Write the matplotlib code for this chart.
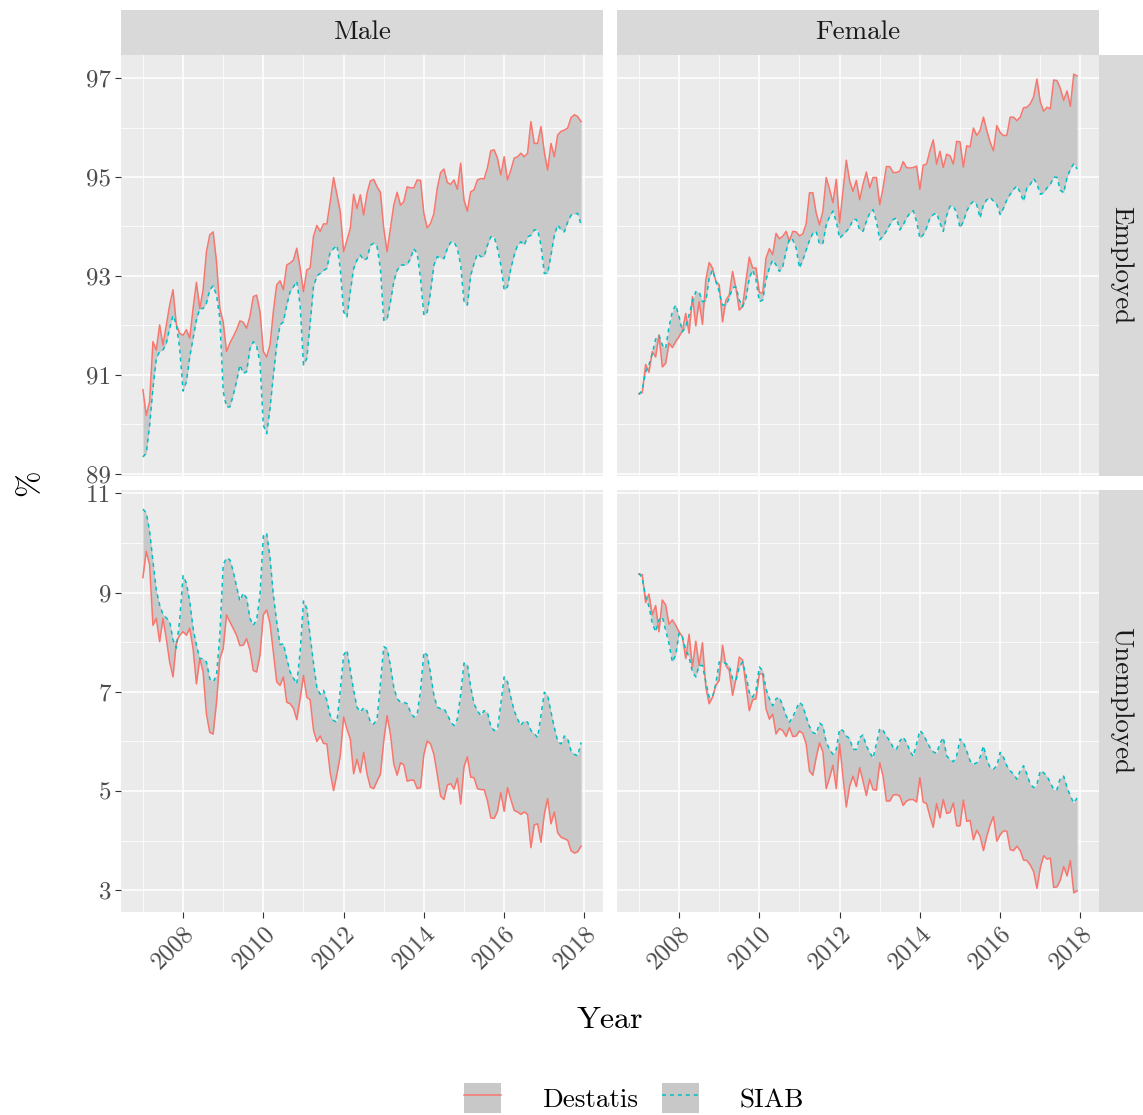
import numpy as np
import matplotlib
matplotlib.use("Agg")
import matplotlib.pyplot as plt
from matplotlib.patches import Rectangle, Patch
from matplotlib.lines import Line2D
from matplotlib.legend_handler import HandlerTuple

plt.rcParams['font.family'] = ['cmr10', 'DejaVu Serif']
plt.rcParams['mathtext.fontset'] = 'cm'
plt.rcParams['axes.formatter.use_mathtext'] = True

# ---------------------------------------------------------------------------
# Monthly shares (in %) from January 2007 to December 2017
# ---------------------------------------------------------------------------
start_year = 2007
genders = ["Male", "Female"]
statuses = ["Employed", "Unemployed"]
sources = ["Destatis", "SIAB"]

male_employed_destatis = [
    90.70, 90.18, 90.45, 91.67, 91.50, 92.01, 91.60, 92.00, 92.41, 92.72, 92.01, 91.84,
    91.80, 91.91, 91.74, 92.34, 92.87, 92.34, 92.72, 93.49, 93.83, 93.89, 93.29, 92.34,
    92.07, 91.47, 91.64, 91.77, 91.91, 92.09, 92.06, 91.94, 92.18, 92.58, 92.61, 92.28,
    91.47, 91.36, 91.60, 92.28, 92.82, 92.90, 92.72, 93.22, 93.26, 93.32, 93.56, 93.16,
    92.68, 93.12, 93.16, 93.80, 94.02, 93.90, 94.05, 94.05, 94.50, 94.99, 94.64, 94.30,
    93.49, 93.72, 93.96, 94.65, 94.36, 94.64, 94.23, 94.67, 94.92, 94.95, 94.80, 94.69,
    93.96, 93.49, 93.96, 94.43, 94.69, 94.43, 94.50, 94.80, 94.78, 94.78, 94.94, 94.93,
    94.26, 93.97, 94.06, 94.26, 94.77, 95.09, 95.16, 94.89, 94.85, 94.94, 94.75, 95.28,
    94.53, 94.31, 94.70, 94.74, 94.94, 94.97, 94.96, 95.18, 95.53, 95.55, 95.38, 95.04,
    95.41, 94.94, 95.14, 95.38, 95.41, 95.48, 95.41, 95.48, 96.12, 95.68, 95.68, 96.02,
    95.51, 95.14, 95.68, 95.41, 95.85, 95.92, 95.95, 95.99, 96.20, 96.26, 96.22, 96.12,
]
male_employed_siab = [
    89.34, 89.41, 89.98, 90.72, 91.33, 91.47, 91.50, 91.64, 91.94, 92.20, 92.01, 91.53,
    90.67, 90.86, 91.36, 91.74, 92.11, 92.34, 92.34, 92.45, 92.72, 92.80, 92.61, 92.14,
    90.66, 90.35, 90.35, 90.59, 90.86, 91.20, 91.03, 91.06, 91.53, 91.67, 91.57, 91.26,
    89.98, 89.81, 90.32, 90.99, 91.60, 92.01, 92.07, 92.41, 92.68, 92.78, 92.89, 92.41,
    91.20, 91.33, 92.04, 92.78, 93.00, 93.05, 93.11, 93.15, 93.49, 93.55, 93.62, 93.15,
    92.27, 92.17, 92.68, 93.15, 93.32, 93.42, 93.32, 93.35, 93.62, 93.66, 93.59, 93.15,
    92.10, 92.12, 92.47, 92.88, 93.11, 93.22, 93.22, 93.23, 93.35, 93.55, 93.45, 92.95,
    92.20, 92.27, 92.68, 93.22, 93.39, 93.36, 93.35, 93.55, 93.68, 93.69, 93.55, 93.22,
    92.47, 92.41, 93.01, 93.25, 93.45, 93.39, 93.39, 93.62, 93.79, 93.79, 93.55, 93.22,
    92.71, 92.78, 93.15, 93.42, 93.62, 93.69, 93.62, 93.79, 93.82, 93.93, 93.93, 93.62,
    93.05, 93.05, 93.42, 93.82, 94.03, 93.93, 93.89, 94.09, 94.23, 94.26, 94.26, 94.03,
]
female_employed_destatis = [
    90.62, 90.64, 91.21, 91.05, 91.47, 91.36, 91.80, 91.16, 91.23, 91.64, 91.55, 91.67,
    91.77, 91.89, 92.24, 91.84, 92.58, 91.99, 92.48, 92.02, 92.92, 93.27, 93.16, 92.89,
    92.82, 92.07, 92.51, 92.61, 93.09, 92.75, 92.31, 92.38, 92.90, 93.38, 93.16, 93.16,
    92.67, 92.65, 93.36, 93.55, 93.43, 93.86, 93.75, 93.80, 93.90, 93.70, 93.90, 93.89,
    93.81, 93.85, 94.05, 94.68, 94.68, 94.27, 94.03, 94.31, 94.99, 94.75, 94.48, 94.95,
    94.07, 94.70, 95.34, 94.92, 94.71, 94.93, 94.54, 94.85, 95.10, 94.78, 94.99, 94.99,
    94.44, 94.78, 95.21, 95.21, 95.09, 95.09, 95.12, 95.31, 95.19, 95.18, 95.19, 95.22,
    94.75, 95.24, 95.26, 95.53, 95.75, 95.26, 95.52, 95.19, 95.46, 95.43, 95.26, 95.72,
    95.71, 95.20, 95.63, 95.61, 95.99, 95.84, 95.94, 96.21, 95.94, 95.70, 95.53, 96.04,
    95.90, 95.84, 95.84, 96.21, 96.21, 96.14, 96.21, 96.40, 96.41, 96.48, 96.62, 96.98,
    96.52, 96.33, 96.41, 96.38, 96.96, 96.95, 96.79, 96.55, 96.74, 96.43, 97.08, 97.04,
]
female_employed_siab = [
    90.60, 90.69, 91.06, 91.20, 91.43, 91.72, 91.80, 91.60, 91.53, 91.97, 92.28, 92.41,
    92.18, 91.87, 91.97, 92.21, 92.48, 92.68, 92.68, 92.48, 92.49, 92.95, 93.12, 92.89,
    92.68, 92.41, 92.41, 92.55, 92.76, 92.78, 92.51, 92.38, 92.55, 92.95, 93.12, 92.92,
    92.48, 92.51, 92.92, 93.16, 93.32, 93.22, 93.09, 93.19, 93.49, 93.76, 93.73, 93.56,
    93.16, 93.32, 93.52, 93.72, 93.86, 93.90, 93.64, 93.66, 94.03, 94.20, 94.31, 94.10,
    93.76, 93.83, 93.90, 93.98, 94.14, 94.14, 93.93, 93.90, 94.10, 94.27, 94.34, 94.10,
    93.73, 93.80, 93.91, 94.03, 94.14, 94.17, 93.93, 94.03, 94.17, 94.27, 94.32, 94.10,
    93.76, 93.83, 93.97, 94.17, 94.24, 94.27, 94.07, 93.90, 94.22, 94.41, 94.41, 94.27,
    93.97, 94.10, 94.31, 94.44, 94.51, 94.44, 94.17, 94.44, 94.54, 94.59, 94.51, 94.44,
    94.24, 94.37, 94.54, 94.65, 94.75, 94.82, 94.68, 94.51, 94.78, 94.85, 94.97, 94.86,
    94.65, 94.68, 94.78, 94.85, 95.00, 94.99, 94.73, 94.68, 94.99, 95.16, 95.27, 95.16,
]
male_unemployed_destatis = [
    9.30, 9.83, 9.56, 8.34, 8.48, 8.01, 8.48, 8.07, 7.60, 7.30, 8.01, 8.14,
    8.21, 8.14, 8.28, 7.87, 7.16, 7.67, 7.40, 6.55, 6.18, 6.15, 6.79, 7.67,
    7.87, 8.55, 8.41, 8.28, 8.14, 7.93, 7.94, 8.07, 7.84, 7.43, 7.40, 7.74,
    8.55, 8.65, 8.38, 7.80, 7.20, 7.13, 7.30, 6.79, 6.76, 6.67, 6.44, 6.86,
    7.33, 6.89, 6.84, 6.23, 6.00, 6.11, 5.96, 5.95, 5.37, 5.01, 5.34, 5.71,
    6.49, 6.25, 6.05, 5.35, 5.64, 5.37, 5.78, 5.35, 5.08, 5.05, 5.20, 5.34,
    6.01, 6.52, 6.15, 5.55, 5.32, 5.57, 5.53, 5.20, 5.22, 5.22, 5.05, 5.07,
    5.74, 6.01, 5.95, 5.74, 5.34, 4.90, 4.83, 5.12, 5.15, 5.04, 5.26, 4.74,
    5.49, 5.69, 5.28, 5.27, 5.05, 5.03, 5.03, 4.81, 4.46, 4.45, 4.59, 4.97,
    4.59, 5.07, 4.83, 4.61, 4.58, 4.53, 4.58, 4.53, 3.86, 4.32, 4.34, 3.97,
    4.53, 4.85, 4.34, 4.58, 4.16, 4.07, 4.04, 4.01, 3.80, 3.75, 3.78, 3.89,
]
male_unemployed_siab = [
    10.68, 10.61, 10.24, 9.63, 9.05, 8.75, 8.56, 8.49, 8.41, 8.05, 7.88, 8.45,
    9.34, 9.19, 8.82, 8.28, 7.94, 7.67, 7.67, 7.60, 7.26, 7.20, 7.33, 8.14,
    9.56, 9.70, 9.66, 9.43, 9.12, 8.83, 8.99, 8.89, 8.48, 8.34, 8.45, 8.95,
    10.14, 10.20, 9.70, 8.95, 8.41, 7.95, 7.97, 7.67, 7.40, 7.28, 7.16, 7.80,
    8.83, 8.68, 8.12, 7.58, 7.09, 6.95, 7.03, 6.82, 6.52, 6.42, 6.39, 7.03,
    7.74, 7.84, 7.43, 7.03, 6.69, 6.59, 6.68, 6.62, 6.39, 6.35, 6.45, 7.16,
    7.91, 7.87, 7.53, 7.09, 6.86, 6.79, 6.79, 6.76, 6.59, 6.49, 6.55, 7.03,
    7.80, 7.74, 7.36, 6.93, 6.69, 6.66, 6.66, 6.55, 6.39, 6.32, 6.45, 6.95,
    7.58, 7.55, 7.09, 6.76, 6.62, 6.52, 6.62, 6.59, 6.30, 6.22, 6.25, 6.76,
    7.30, 7.20, 6.89, 6.62, 6.45, 6.32, 6.42, 6.39, 6.22, 6.16, 6.08, 6.52,
    6.99, 6.93, 6.59, 6.28, 6.01, 5.95, 6.11, 6.05, 5.81, 5.74, 5.71, 5.98,
]
female_unemployed_destatis = [
    9.37, 9.36, 8.80, 8.97, 8.55, 8.74, 8.21, 8.85, 8.75, 8.36, 8.45, 8.34,
    8.21, 8.11, 7.67, 8.16, 7.50, 8.02, 7.53, 7.99, 7.09, 6.76, 6.89, 7.13,
    7.23, 7.94, 7.53, 7.43, 6.93, 7.26, 7.70, 7.64, 7.13, 6.62, 6.84, 6.86,
    7.36, 7.36, 6.66, 6.45, 6.55, 6.15, 6.26, 6.22, 6.10, 6.28, 6.10, 6.11,
    6.21, 6.16, 5.95, 5.40, 5.32, 5.68, 5.97, 5.79, 5.05, 5.27, 5.52, 5.05,
    5.95, 5.30, 4.68, 5.10, 5.30, 5.09, 5.47, 5.20, 4.91, 5.24, 5.03, 5.02,
    5.57, 5.30, 4.80, 4.80, 4.92, 4.93, 4.90, 4.71, 4.80, 4.83, 4.83, 4.78,
    5.27, 4.78, 4.75, 4.49, 4.27, 4.75, 4.46, 4.83, 4.55, 4.57, 4.76, 4.30,
    4.30, 4.82, 4.39, 4.41, 4.02, 4.21, 4.09, 3.80, 4.09, 4.32, 4.49, 3.99,
    4.12, 4.20, 4.19, 3.82, 3.80, 3.89, 3.80, 3.61, 3.60, 3.51, 3.38, 3.04,
    3.45, 3.70, 3.63, 3.65, 3.06, 3.07, 3.21, 3.48, 3.29, 3.60, 2.95, 2.99,
]
female_unemployed_siab = [
    9.39, 9.29, 8.92, 8.72, 8.38, 8.21, 8.45, 8.51, 8.24, 7.97, 7.60, 7.74,
    8.18, 8.11, 7.84, 7.70, 7.40, 7.30, 7.53, 7.53, 7.20, 6.89, 6.89, 7.16,
    7.60, 7.60, 7.57, 7.53, 7.26, 7.23, 7.50, 7.60, 7.33, 6.99, 6.89, 7.03,
    7.50, 7.43, 7.06, 6.86, 6.72, 6.86, 6.89, 6.72, 6.52, 6.39, 6.49, 6.65,
    6.79, 6.72, 6.50, 6.30, 6.18, 6.15, 6.37, 6.32, 5.98, 5.84, 5.74, 5.84,
    6.25, 6.22, 6.11, 6.06, 5.84, 5.84, 6.08, 6.13, 5.91, 5.78, 5.66, 5.95,
    6.26, 6.22, 6.11, 6.01, 5.88, 5.84, 6.01, 6.09, 5.98, 5.81, 5.70, 5.95,
    6.22, 6.15, 6.01, 5.88, 5.79, 5.76, 5.96, 6.08, 5.71, 5.64, 5.59, 5.71,
    6.05, 5.98, 5.81, 5.61, 5.54, 5.57, 5.68, 5.91, 5.64, 5.47, 5.44, 5.51,
    5.78, 5.68, 5.51, 5.41, 5.34, 5.24, 5.41, 5.51, 5.34, 5.14, 5.07, 5.14,
    5.41, 5.37, 5.30, 5.17, 5.03, 5.03, 5.27, 5.30, 5.07, 4.90, 4.76, 4.86,
]

x_tick_years = [2008, 2010, 2012, 2014, 2016, 2018]
x_minor_years = [2007, 2009, 2011, 2013, 2015, 2017]
employed_ticks = [89, 91, 93, 95, 97]
employed_minor = [90, 92, 94, 96]
unemployed_ticks = [3, 5, 7, 9, 11]
unemployed_minor = [4, 6, 8, 10]

panel_data = {
    ("Employed", "Male"): (male_employed_destatis, male_employed_siab),
    ("Employed", "Female"): (female_employed_destatis, female_employed_siab),
    ("Unemployed", "Male"): (male_unemployed_destatis, male_unemployed_siab),
    ("Unemployed", "Female"): (female_unemployed_destatis, female_unemployed_siab),
}
row_ticks = {
    "Employed": (employed_ticks, employed_minor),
    "Unemployed": (unemployed_ticks, unemployed_minor),
}

# ---------------------------------------------------------------------------
# Styling
# ---------------------------------------------------------------------------
RED = "#F8766D"
TEAL = "#00BFC4"
RIBBON = "#C8C8C8"
PANEL_BG = "#EBEBEB"
STRIP_BG = "#D9D9D9"
TICK_FS = 18
STRIP_FS = 19.5
TITLE_FS = 23

W, H = 1143, 1115
fig = plt.figure(figsize=(W / 100, H / 100), dpi=100)
fig.patch.set_facecolor("white")


def fbox(x0, y0, x1, y1):
    return [x0 / W, 1 - y1 / H, (x1 - x0) / W, (y1 - y0) / H]


col_px = [(121, 603), (617, 1099)]
row_px = [(55, 476), (490, 912)]


def expanded(lo, hi, frac=0.05):
    pad = (hi - lo) * frac
    return lo - pad, hi + pad


n = len(male_employed_destatis)
t = start_year + np.arange(n) / 12.0
x_lim = expanded(t[0], t[-1])

# shared y-limits per row (fixed scales within a row)
row_lims = {}
for status in statuses:
    vals = []
    for g in genders:
        d, s = panel_data[(status, g)]
        vals.extend(d)
        vals.extend(s)
    row_lims[status] = expanded(min(vals), max(vals))

for ri, status in enumerate(statuses):
    for ci, gender in enumerate(genders):
        x0, x1 = col_px[ci]
        y0, y1 = row_px[ri]
        ax = fig.add_axes(fbox(x0, y0, x1, y1))
        ax.set_facecolor(PANEL_BG)
        for sp in ax.spines.values():
            sp.set_visible(False)

        destatis, siab = panel_data[(status, gender)]
        destatis = np.asarray(destatis)
        siab = np.asarray(siab)

        ax.fill_between(t, destatis, siab, color=RIBBON, lw=0, zorder=2)
        ax.plot(t, destatis, color=RED, lw=1.1, zorder=3)
        ax.plot(t, siab, color=TEAL, lw=1.1, dashes=(2.6, 2.6), zorder=4)

        ax.set_xlim(*x_lim)
        ax.set_ylim(*row_lims[status])

        major, minor = row_ticks[status]
        ax.set_xticks(x_tick_years)
        ax.set_xticks(x_minor_years, minor=True)
        ax.set_yticks(major)
        ax.set_yticks(minor, minor=True)
        ax.grid(which="major", color="white", lw=1.1, zorder=1)
        ax.grid(which="minor", color="white", lw=0.55, zorder=1)
        ax.set_axisbelow(True)

        ax.tick_params(which="major", length=4, width=0.8, color="#333333",
                       labelsize=TICK_FS, labelcolor="#4D4D4D", pad=3)
        ax.tick_params(which="minor", length=0)

        if ci == 0:
            ax.set_yticklabels([str(v) for v in major])
        else:
            ax.tick_params(axis="y", which="major", length=0, labelleft=False)
        if ri == 1:
            ax.set_xticklabels([str(v) for v in x_tick_years], rotation=45,
                               ha="right", va="top", rotation_mode="anchor")
        else:
            ax.tick_params(axis="x", which="major", length=0, labelbottom=False)

# facet strips along the top (gender) and right side (status)
for ci, gender in enumerate(genders):
    x0, x1 = col_px[ci]
    fig.add_artist(Rectangle((x0 / W, 1 - 55 / H), (x1 - x0) / W, 45 / H,
                             transform=fig.transFigure, facecolor=STRIP_BG,
                             edgecolor="none"))
    fig.text((x0 + x1) / 2 / W, 1 - 32.5 / H, gender, ha="center", va="center",
             fontsize=STRIP_FS, color="#1A1A1A")
for ri, status in enumerate(statuses):
    y0, y1 = row_px[ri]
    fig.add_artist(Rectangle((1099 / W, 1 - y1 / H), 44 / W, (y1 - y0) / H,
                             transform=fig.transFigure, facecolor=STRIP_BG,
                             edgecolor="none"))
    fig.text(1121 / W, 1 - (y0 + y1) / 2 / H, status, ha="center", va="center",
             rotation=-90, fontsize=STRIP_FS, color="#1A1A1A")

# axis titles
fig.text(610 / W, 1 - 1020 / H, "Year", ha="center", va="center", fontsize=TITLE_FS)
fig.text(30 / W, 1 - 483 / H, "%", ha="center", va="center", rotation=90,
         fontsize=TITLE_FS)

# legend: grey ribbon key with the series line drawn across it
key_patch = Patch(facecolor=RIBBON, edgecolor="none")
h_destatis = (key_patch, Line2D([], [], color=RED, lw=1.1))
h_siab = (key_patch, Line2D([], [], color=TEAL, lw=1.1, dashes=(2.6, 2.6)))
fig.legend([h_destatis, h_siab], sources, loc="center",
           bbox_to_anchor=(634 / W, 1 - 1098 / H), ncol=2, frameon=False,
           fontsize=STRIP_FS, handler_map={tuple: HandlerTuple(ndivide=1, pad=0)},
           handlelength=1.35, handleheight=1.35, handletextpad=1.5,
           columnspacing=0.9, borderpad=0)

fig.savefig("out.png", dpi=100)
